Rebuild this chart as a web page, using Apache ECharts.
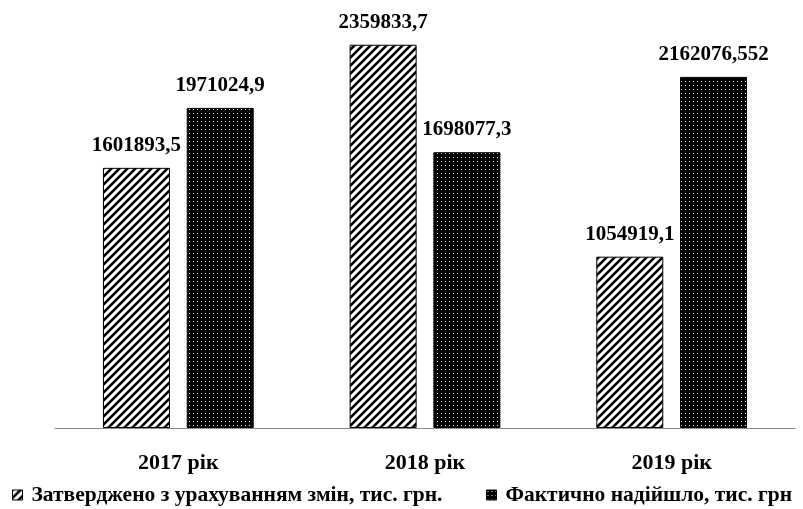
<!DOCTYPE html>
<html>
<head>
<meta charset="utf-8">
<script src="https://cdn.jsdelivr.net/npm/echarts@6/dist/echarts.min.js"></script>
<style>
  html, body { margin: 0; padding: 0; background: #fff; }
  #chart { width: 803px; height: 509px; }
</style>
</head>
<body>
<div id="chart"></div>
<script>
const years = ['2017 рік', '2018 рік', '2019 рік'];
const approved = [1601893.5, 2359833.7, 1054919.1];
const actual = [1971024.9, 1698077.3, 2162076.552];
const seriesNames = ['Затверджено з урахуванням змін, тис. грн.', 'Фактично надійшло, тис. грн'];

// fill patterns
function hatchPattern() {
    const c = document.createElement('canvas');
    c.width = 8; c.height = 8;
    const ctx = c.getContext('2d');
    ctx.fillStyle = '#fff';
    ctx.fillRect(0, 0, 8, 8);
    ctx.strokeStyle = '#000';
    ctx.lineWidth = 2.6;
    ctx.beginPath();
    ctx.moveTo(-1, 9); ctx.lineTo(9, -1);
    ctx.moveTo(-5, 5); ctx.lineTo(5, -5);
    ctx.moveTo(3, 13); ctx.lineTo(13, 3);
    ctx.stroke();
    return c;
}
function dotPattern() {
    const c = document.createElement('canvas');
    c.width = 4; c.height = 4;
    const ctx = c.getContext('2d');
    ctx.fillStyle = '#000';
    ctx.fillRect(0, 0, 4, 4);
    ctx.fillStyle = '#e6e6e6';
    ctx.fillRect(1, 1, 1, 1);
    return c;
}

const font = '"Liberation Serif", "Times New Roman", serif';
const fmt = p => String(p.value).replace('.', ',');

const chart = echarts.init(document.getElementById('chart'));
const labelStyle = {
    show: true, position: 'top', distance: 12, formatter: fmt,
    fontFamily: font, fontWeight: 'bold', fontSize: 21, color: '#000'
};
const legendBase = {
    top: 479,
    icon: 'rect',
    itemWidth: 10,
    itemHeight: 10,
    itemStyle: { borderColor: '#000', borderWidth: 1 },
    textStyle: { fontFamily: font, fontWeight: 'bold', fontSize: 21.5, color: '#000', padding: [0, 0, 0, 4] }
};
const option = {
    animation: false,
    textStyle: { fontFamily: font },
    grid: { left: 55, right: 8, top: 22, bottom: 81 },
    legend: [
        Object.assign({ left: 7, data: [seriesNames[0]] }, legendBase),
        Object.assign({ left: 481, data: [seriesNames[1]] }, legendBase)
    ],
    xAxis: {
        type: 'category',
        data: years,
        axisLine: { lineStyle: { color: '#888', width: 1 } },
        axisTick: { show: false },
        axisLabel: { fontFamily: font, fontWeight: 'bold', fontSize: 22, color: '#000', margin: 24 }
    },
    yAxis: {
        type: 'value',
        min: 0,
        max: 2500000,
        show: false,
        splitLine: { show: false }
    },
    series: [
        {
            name: seriesNames[0],
            type: 'bar',
            data: approved,
            barWidth: 67,
            barGap: '25%',
            itemStyle: { color: { image: hatchPattern(), repeat: 'repeat' }, borderColor: '#000', borderWidth: 1 },
            label: labelStyle
        },
        {
            name: seriesNames[1],
            type: 'bar',
            data: actual,
            barWidth: 67,
            itemStyle: { color: { image: dotPattern(), repeat: 'repeat' }, borderColor: '#000', borderWidth: 1 },
            label: labelStyle
        }
    ]
};
option && chart.setOption(option);
</script>
</body>
</html>
